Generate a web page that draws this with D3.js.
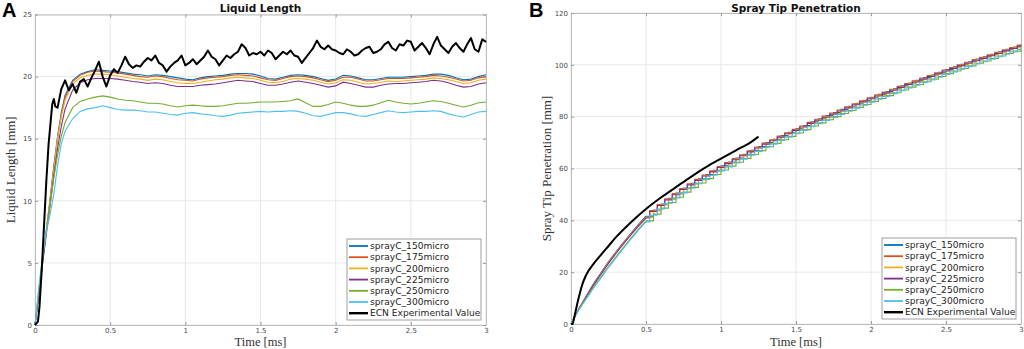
<!DOCTYPE html>
<html>
<head>
<meta charset="utf-8">
<script src="https://cdn.jsdelivr.net/npm/d3@7"></script>
<style>
  body { margin: 0; background: #fff; }
  svg { display: block; }
</style>
</head>
<body>
<div id="chart"></div>
<script>
// --------------------
// DATA
// --------------------
const seriesNames = [
  "sprayC_150micro", "sprayC_175micro", "sprayC_200micro",
  "sprayC_225micro", "sprayC_250micro", "sprayC_300micro"
];
const ecnName = "ECN Experimental Value";

const xTicks = [0, 0.5, 1, 1.5, 2, 2.5, 3];
const xTickLabels = ["0", "0.5", "1", "1.5", "2", "2.5", "3"];
const lenTicks = [0, 5, 10, 15, 20, 25];
const penTicks = [0, 20, 40, 60, 80, 100, 120];

// liquid length, simulations: time [ms]
const simTime = [0, 0.025, 0.05, 0.075, 0.1, 0.125, 0.15, 0.175, 0.2]
  .concat(d3.range(0.25, 3.0001, 0.05));

// liquid length [mm]
const len150 = [0, 2.4, 5.0, 7.6, 10.1, 12.8, 15.2, 17.1, 18.5,
  19.7, 20.2, 20.4, 20.55, 20.5,
  20.45, 20.4, 20.3, 20.2, 20.15, 20.05, 20.15, 20.1, 20.0, 19.9,
  19.8, 19.75, 19.9, 20.0, 20.05, 20.1, 20.2, 20.25, 20.25, 20.2,
  20.05, 19.85, 19.8, 19.95, 20.1, 20.15, 20.1, 20.0, 19.85, 19.7,
  19.8, 20.1, 20.05, 19.9, 19.75, 19.75, 19.85, 19.95, 19.95, 19.95,
  20.0, 20.05, 20.1, 20.2, 20.2, 20.1, 19.9, 19.75, 19.8, 20.0,
  20.15];
const len175 = [0, 2.4, 5.0, 7.5, 10.0, 12.6, 15.0, 16.9, 18.3,
  19.6, 20.1, 20.35, 20.45, 20.4,
  20.35, 20.3, 20.2, 20.1, 20.0, 19.95, 20.05, 20.0, 19.85, 19.75,
  19.7, 19.65, 19.8, 19.9, 19.95, 20.0, 20.1, 20.15, 20.1, 20.05,
  19.9, 19.75, 19.7, 19.85, 20.0, 20.05, 20.0, 19.9, 19.75, 19.6,
  19.7, 19.95, 19.95, 19.8, 19.65, 19.65, 19.75, 19.85, 19.85, 19.85,
  19.9, 19.95, 20.0, 20.1, 20.05, 19.95, 19.8, 19.65, 19.7, 19.9,
  20.0];
const len200 = [0, 2.5, 5.1, 7.6, 10.0, 12.5, 15.0, 16.8, 18.1,
  19.4, 19.9, 20.1, 20.2, 20.2,
  20.15, 20.05, 19.95, 19.85, 19.8, 19.7, 19.8, 19.75, 19.6, 19.5,
  19.45, 19.45, 19.55, 19.65, 19.75, 19.8, 19.9, 19.95, 19.9, 19.85,
  19.7, 19.55, 19.5, 19.6, 19.8, 19.85, 19.8, 19.7, 19.55, 19.4,
  19.5, 19.75, 19.7, 19.55, 19.4, 19.45, 19.55, 19.65, 19.6, 19.65,
  19.7, 19.75, 19.8, 19.9, 19.85, 19.75, 19.6, 19.45, 19.5, 19.7,
  19.8];
const len225 = [0, 2.4, 4.9, 7.3, 9.6, 12.0, 14.2, 16.0, 17.4,
  18.9, 19.5, 19.75, 19.85, 19.85,
  19.85, 19.8, 19.7, 19.6, 19.55, 19.45, 19.5, 19.45, 19.3, 19.2,
  19.2, 19.2, 19.3, 19.35, 19.4, 19.5, 19.6, 19.7, 19.65, 19.6,
  19.45, 19.3, 19.3, 19.4, 19.55, 19.65, 19.55, 19.45, 19.3, 19.15,
  19.25, 19.55, 19.45, 19.3, 19.15, 19.15, 19.3, 19.4, 19.45, 19.45,
  19.5, 19.55, 19.6, 19.7, 19.65, 19.5, 19.3, 19.15, 19.2, 19.4,
  19.5];
const len250 = [0, 2.8, 5.3, 7.6, 9.6, 11.8, 13.7, 15.2, 16.3,
  17.5, 18.0, 18.2, 18.35, 18.45,
  18.35, 18.2, 18.1, 18.05, 17.95, 17.85, 17.85, 17.8, 17.65, 17.55,
  17.65, 17.7, 17.65, 17.6, 17.6, 17.65, 17.75, 17.85, 17.85, 17.9,
  17.95, 17.95, 17.95, 18.0, 18.05, 18.2, 17.9, 17.6, 17.6, 17.75,
  17.95, 17.85, 17.7, 17.6, 17.6, 17.7, 17.9, 18.1, 17.95, 17.85,
  17.8, 17.85, 17.95, 18.05, 18.0, 17.85, 17.7, 17.55, 17.7, 17.9,
  17.95];
const len300 = [0, 3.0, 5.5, 7.5, 8.9, 10.5, 12.8, 14.6, 15.6,
  16.6, 17.2, 17.4, 17.5, 17.65,
  17.5, 17.35, 17.3, 17.3, 17.25, 17.15, 17.15, 17.05, 16.95, 16.9,
  17.05, 17.1, 17.0, 16.95, 16.85, 16.8, 16.9, 17.05, 17.1, 17.15,
  17.2, 17.15, 17.2, 17.2, 17.25, 17.2, 17.05, 16.85, 16.8, 16.95,
  17.1, 17.1, 17.0, 16.85, 16.8, 16.95, 17.1, 17.25, 17.15, 17.1,
  17.15, 17.2, 17.2, 17.25, 17.2, 17.0, 16.85, 16.75, 16.95, 17.15,
  17.2];

// liquid length, ECN experiment
const ecnLenTime = [0, 0.02, 0.03, 0.045, 0.06, 0.075, 0.09, 0.105, 0.115, 0.125, 0.135]
  .concat(d3.range(0.15, 3.0001, 0.025));
const ecnLen = [0, 0.3, 1.5, 4.5, 8.0, 11.5, 14.5, 16.5, 17.8, 18.2, 17.6,
  17.5, 19.0, 19.7, 18.9, 19.4, 18.7, 19.6, 19.8, 19.2, 19.9,
  20.5, 21.2, 20.0, 19.2, 20.1, 20.6, 20.3, 20.9, 21.6, 21.0,
  20.7, 20.9, 20.8, 21.2, 21.5, 21.3, 21.7, 21.1, 20.9, 20.4,
  20.8, 21.1, 21.3, 21.7, 20.9, 21.1, 21.4, 21.0, 21.3, 21.6,
  22.1, 21.6, 21.4, 20.9, 21.3, 21.7, 21.5, 21.8, 22.0, 22.6,
  22.3, 21.7, 21.9, 21.8, 22.0, 21.7, 22.1, 21.9, 21.4, 21.7,
  22.0, 21.8, 22.1, 21.7, 21.6, 21.1, 21.5, 21.9, 22.3, 22.9,
  22.4, 22.2, 22.5, 22.2, 22.1, 21.9, 21.8, 22.2, 22.0, 21.7,
  21.8, 22.1, 22.3, 22.4, 21.9, 22.0, 22.2, 22.6, 22.8, 22.3,
  22.1, 22.6, 22.5, 22.9, 22.8, 22.1, 22.4, 22.7, 22.3, 21.8,
  22.6, 23.2, 22.5, 22.2, 21.9, 22.4, 22.7, 22.3, 22.0, 22.6,
  23.1, 22.2, 22.0, 23.0, 22.8];

// spray tip penetration, simulations: time [ms]
const penTime = d3.range(0, 3.0001, 0.05);

// penetration [mm]
const pen150 = [0, 5.6, 10.6, 15.5, 19.8, 24.0, 27.8, 31.5, 35.0, 38.4,
  41.6, 44.0, 46.3, 48.5, 50.5, 52.5, 54.3, 56.0, 57.7, 59.3,
  61.0, 62.5, 64.0, 65.5, 67.0, 68.5, 70.0, 71.3, 72.7, 74.0,
  75.3, 76.6, 78.0, 79.2, 80.4, 81.6, 82.8, 84.0, 85.2, 86.3,
  87.5, 88.6, 89.7, 90.8, 91.9, 93.0, 94.0, 95.1, 96.1, 97.1,
  98.2, 99.2, 100.2, 101.2, 102.2, 103.1, 104.1, 105.0, 106.0, 106.9,
  107.8];
const pen175 = [0, 5.6, 10.5, 15.3, 19.6, 23.8, 27.6, 31.3, 34.8, 38.2,
  41.3, 43.8, 46.1, 48.3, 50.3, 52.3, 54.1, 55.8, 57.5, 59.1,
  60.8, 62.3, 63.8, 65.3, 66.8, 68.3, 69.8, 71.1, 72.5, 73.8,
  75.1, 76.4, 77.8, 79.0, 80.2, 81.4, 82.6, 83.8, 85.0, 86.1,
  87.3, 88.4, 89.5, 90.6, 91.7, 92.8, 93.8, 94.9, 95.9, 96.9,
  98.0, 99.0, 100.0, 101.0, 102.0, 102.9, 103.9, 104.8, 105.8, 106.7,
  107.6];
const pen200 = [0, 5.5, 10.4, 15.1, 19.4, 23.6, 27.4, 31.1, 34.6, 38.0,
  41.1, 43.6, 45.9, 48.1, 50.1, 52.1, 53.9, 55.6, 57.3, 58.9,
  60.6, 62.1, 63.6, 65.1, 66.6, 68.1, 69.6, 70.9, 72.3, 73.6,
  74.9, 76.2, 77.6, 78.8, 80.0, 81.2, 82.4, 83.6, 84.8, 85.9,
  87.1, 88.2, 89.3, 90.4, 91.5, 92.6, 93.6, 94.7, 95.7, 96.7,
  97.8, 98.8, 99.8, 100.8, 101.8, 102.7, 103.7, 104.6, 105.6, 106.5,
  107.4];
const pen225 = [0, 5.5, 10.3, 15.0, 19.2, 23.4, 27.2, 30.9, 34.4, 37.8,
  40.9, 43.4, 45.7, 47.9, 49.9, 51.9, 53.7, 55.4, 57.1, 58.7,
  60.4, 61.9, 63.4, 64.9, 66.4, 67.9, 69.4, 70.7, 72.1, 73.4,
  74.7, 76.0, 77.4, 78.6, 79.8, 81.0, 82.2, 83.4, 84.6, 85.7,
  86.9, 88.0, 89.1, 90.2, 91.3, 92.4, 93.4, 94.5, 95.5, 96.5,
  97.6, 98.6, 99.6, 100.6, 101.6, 102.5, 103.5, 104.4, 105.4, 106.3,
  107.2];
const pen250 = [0, 5.3, 9.8, 14.2, 18.2, 22.2, 25.9, 29.6, 33.1, 36.6,
  39.8, 42.4, 44.7, 46.9, 48.9, 50.9, 52.7, 54.4, 56.1, 57.7,
  59.4, 60.9, 62.4, 63.9, 65.4, 66.9, 68.4, 69.7, 71.1, 72.4,
  73.7, 75.0, 76.4, 77.6, 78.8, 80.0, 81.2, 82.4, 83.6, 84.7,
  85.9, 87.0, 88.1, 89.2, 90.3, 91.4, 92.4, 93.5, 94.5, 95.5,
  96.6, 97.6, 98.6, 99.6, 100.6, 101.5, 102.5, 103.4, 104.4, 105.3,
  106.2];
const pen300 = [0, 5.2, 9.5, 13.8, 17.8, 21.8, 25.5, 29.2, 32.7, 36.2,
  39.4, 42.0, 44.4, 46.6, 48.6, 50.6, 52.4, 54.1, 55.8, 57.4,
  59.1, 60.6, 62.1, 63.6, 65.1, 66.6, 68.1, 69.4, 70.8, 72.1,
  73.4, 74.7, 76.1, 77.3, 78.5, 79.7, 80.9, 82.1, 83.3, 84.4,
  85.6, 86.7, 87.8, 88.9, 90.0, 91.1, 92.1, 93.2, 94.2, 95.2,
  96.3, 97.3, 98.3, 99.3, 100.3, 101.2, 102.2, 103.1, 104.1, 105.0,
  105.9];

// penetration, ECN experiment
const ecnPenTime = [0, 0.01, 0.025, 0.05, 0.075, 0.1, 0.15, 0.2, 0.25, 0.3,
  0.4, 0.5, 0.6, 0.7, 0.8, 0.9, 1.0, 1.1, 1.2, 1.25];
const ecnPen = [0, 0, 3.5, 9.8, 15.2, 18.8, 23.2, 26.7, 30.1, 33.5,
  39.3, 44.4, 48.8, 52.8, 56.8, 60.5, 63.8, 67.0, 70.2, 72.3];

const colors = ["#0072BD", "#D95319", "#EDB120", "#7E2F8E", "#77AC30", "#4DBEEE"];

// --------------------
// SETUP
// --------------------
const width = 1024;
const height = 349;
const sans = "'DejaVu Sans', sans-serif";
const serif = "'Liberation Serif', 'DejaVu Serif', serif";

const svg = d3.select("#chart")
  .append("svg")
  .attr("width", width)
  .attr("height", height)
  .style("background", "#fff");

function zipXY(ts, vs) {
  return ts.map((t, i) => ({ t: t, v: vs[i] }));
}

// frame: grid, box, ticks, labels
function drawFrame(x, y, yTicks, title, yLabel, letter, letterX) {
  const [x0, x1] = x.range();
  const [y0, y1] = y.range();
  const g = svg.append("g");

  g.selectAll(".gx").data(xTicks).join("line")
    .attr("x1", d => x(d)).attr("x2", d => x(d))
    .attr("y1", y0).attr("y2", y1)
    .attr("stroke", "#e8e8e8");
  g.selectAll(".gy").data(yTicks).join("line")
    .attr("x1", x0).attr("x2", x1)
    .attr("y1", d => y(d)).attr("y2", d => y(d))
    .attr("stroke", "#e8e8e8");

  const axes = [
    [d3.axisBottom(x).tickValues(xTicks).tickFormat((d, i) => xTickLabels[i]), `translate(0,${y0})`],
    [d3.axisTop(x).tickValues(xTicks).tickFormat(""), `translate(0,${y1})`],
    [d3.axisLeft(y).tickValues(yTicks), `translate(${x0},0)`],
    [d3.axisRight(y).tickValues(yTicks).tickFormat(""), `translate(${x1},0)`]
  ];
  axes.forEach(([ax, tr]) => {
    const a = svg.append("g")
      .attr("transform", tr)
      .call(ax.tickSizeInner(-3).tickSizeOuter(0).tickPadding(3));
    a.select(".domain").attr("stroke", "#bdbdbd");
    a.selectAll(".tick line").attr("stroke", "#9a9a9a");
    a.selectAll("text")
      .attr("fill", "#4a4a4a")
      .style("font-family", sans)
      .style("font-size", "7px");
  });

  svg.append("text")
    .attr("x", (x0 + x1) / 2).attr("y", 12)
    .attr("text-anchor", "middle")
    .style("font-family", sans).style("font-weight", "bold").style("font-size", "10.5px")
    .attr("fill", "#111")
    .text(title);

  svg.append("text")
    .attr("x", (x0 + x1) / 2).attr("y", 346)
    .attr("text-anchor", "middle")
    .style("font-family", serif).style("font-size", "12.5px")
    .attr("fill", "#333")
    .text("Time [ms]");

  svg.append("text")
    .attr("transform", `translate(${x0 - 20},${(y0 + y1) / 2}) rotate(-90)`)
    .attr("text-anchor", "middle")
    .style("font-family", serif).style("font-size", "13px")
    .attr("fill", "#333")
    .text(yLabel);

  svg.append("text")
    .attr("x", letterX).attr("y", 17)
    .style("font-family", "'Liberation Sans', Arial, sans-serif")
    .style("font-weight", "bold").style("font-size", "20px")
    .attr("fill", "#000")
    .text(letter);
}

function drawLegend(lx, ly) {
  const g = svg.append("g").attr("transform", `translate(${lx},${ly})`);
  g.append("rect")
    .attr("width", 134).attr("height", 81)
    .attr("fill", "#fff").attr("stroke", "#a0a0a0");
  const names = seriesNames.concat([ecnName]);
  const cols = colors.concat(["#000"]);
  names.forEach((n, i) => {
    const cy = 7 + i * 11.2;
    g.append("line")
      .attr("x1", 2).attr("x2", 21)
      .attr("y1", cy).attr("y2", cy)
      .attr("stroke", cols[i])
      .attr("stroke-width", i === 6 ? 2.4 : 1.8);
    g.append("text")
      .attr("x", 23).attr("y", cy)
      .attr("dy", "0.35em")
      .style("font-family", sans).style("font-size", "9.1px")
      .attr("fill", "#222")
      .text(n);
  });
}

// --------------------
// A: LIQUID LENGTH
// --------------------
const xA = d3.scaleLinear().domain([0, 3]).range([35, 486]);
const yA = d3.scaleLinear().domain([0, 25]).range([325, 14.5]);

drawFrame(xA, yA, lenTicks, "Liquid Length", "Liquid Length [mm]", "A", 2);

const lineA = d3.line().x(d => xA(d.t)).y(d => yA(d.v));
const lenSeries = [len150, len175, len200, len225, len250, len300];

lenSeries.forEach((vals, i) => {
  svg.append("path")
    .datum(zipXY(simTime, vals))
    .attr("fill", "none")
    .attr("stroke", colors[i])
    .attr("stroke-width", 1.1)
    .attr("d", lineA);
});

svg.append("path")
  .datum(zipXY(ecnLenTime, ecnLen))
  .attr("fill", "none")
  .attr("stroke", "#000")
  .attr("stroke-width", 2)
  .attr("stroke-linejoin", "round")
  .attr("d", lineA);

drawLegend(347, 239);

// --------------------
// B: SPRAY TIP PENETRATION
// --------------------
const xB = d3.scaleLinear().domain([0, 3]).range([571, 1021]);
const yB = d3.scaleLinear().domain([0, 120]).range([324, 13]);

drawFrame(xB, yB, penTicks, "Spray Tip Penetration", "Spray Tip Penetration [mm]", "B", 529);

const penSeries = [pen150, pen175, pen200, pen225, pen250, pen300];
const stepCurves = [d3.curveStepAfter, d3.curveStep, d3.curveStepAfter,
  d3.curveStep, d3.curveStepAfter, d3.curveStep];

penSeries.forEach((vals, i) => {
  const pts = zipXY(penTime, vals);
  // smooth early part, staircase afterwards
  svg.append("path")
    .datum(pts.filter(d => d.t <= 0.5001))
    .attr("fill", "none")
    .attr("stroke", colors[i])
    .attr("stroke-width", 1.1)
    .attr("d", d3.line().x(d => xB(d.t)).y(d => yB(d.v)).curve(d3.curveMonotoneX));
  svg.append("path")
    .datum(pts.filter(d => d.t >= 0.4999))
    .attr("fill", "none")
    .attr("stroke", colors[i])
    .attr("stroke-width", 1.1)
    .attr("d", d3.line().x(d => xB(d.t)).y(d => yB(d.v)).curve(stepCurves[i]));
});

svg.append("path")
  .datum(zipXY(ecnPenTime, ecnPen))
  .attr("fill", "none")
  .attr("stroke", "#000")
  .attr("stroke-width", 2)
  .attr("d", d3.line().x(d => xB(d.t)).y(d => yB(d.v)).curve(d3.curveMonotoneX));

drawLegend(882, 238);
</script>
</body>
</html>
